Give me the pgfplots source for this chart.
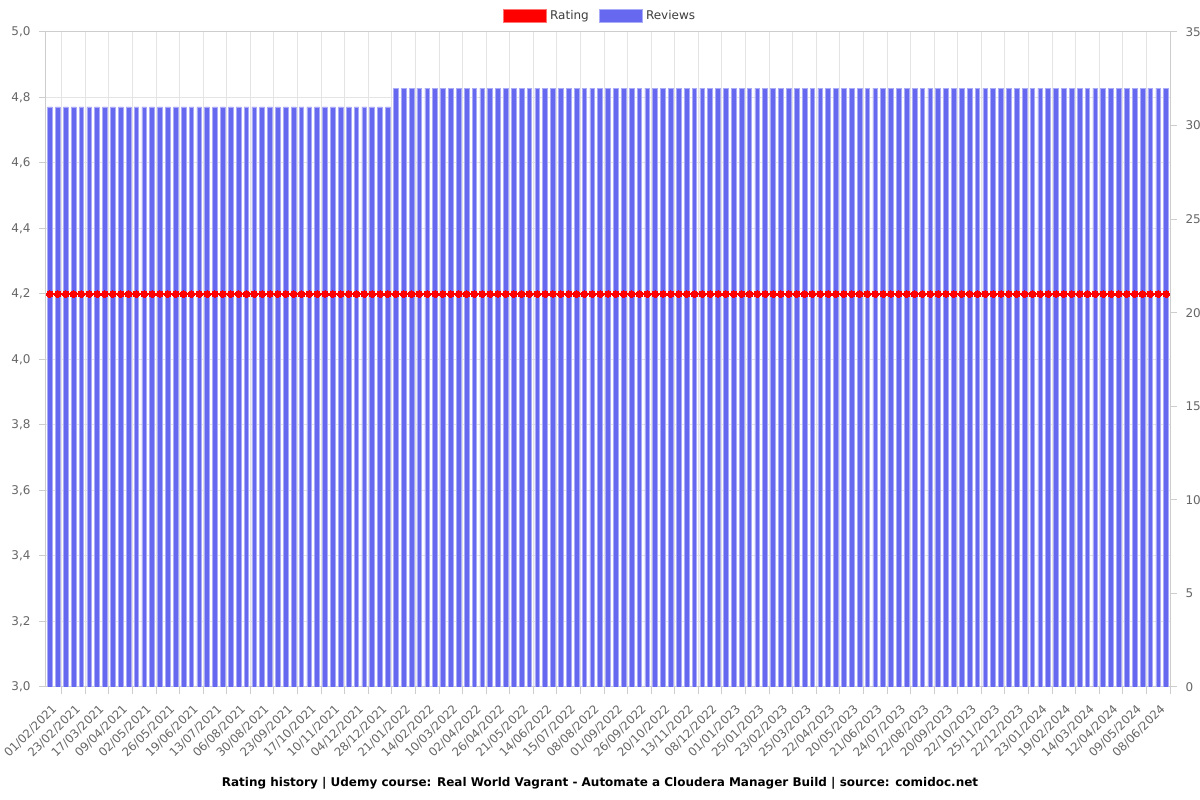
\documentclass[border=0pt]{standalone}
\usepackage{pgfplots}
\pgfplotsset{compat=1.18}
\usepackage{pgfplotstable}
\usepackage{fontspec}
\setmainfont{DejaVu Sans}

\definecolor{barblue}{RGB}{102,104,240}
\definecolor{gridgray}{RGB}{228,228,228}
\definecolor{axisgray}{RGB}{205,205,205}
\definecolor{labelgray}{RGB}{102,102,102}

% idx = week index, rating (left axis), reviews (right axis)
\pgfplotstableread[row sep=\\]{
idx rating reviews\\
0 4.2 31\\ 1 4.2 31\\ 2 4.2 31\\ 3 4.2 31\\ 4 4.2 31\\ 5 4.2 31\\ 6 4.2 31\\ 7 4.2 31\\ 8 4.2 31\\ 9 4.2 31\\
10 4.2 31\\ 11 4.2 31\\ 12 4.2 31\\ 13 4.2 31\\ 14 4.2 31\\ 15 4.2 31\\ 16 4.2 31\\ 17 4.2 31\\ 18 4.2 31\\ 19 4.2 31\\
20 4.2 31\\ 21 4.2 31\\ 22 4.2 31\\ 23 4.2 31\\ 24 4.2 31\\ 25 4.2 31\\ 26 4.2 31\\ 27 4.2 31\\ 28 4.2 31\\ 29 4.2 31\\
30 4.2 31\\ 31 4.2 31\\ 32 4.2 31\\ 33 4.2 31\\ 34 4.2 31\\ 35 4.2 31\\ 36 4.2 31\\ 37 4.2 31\\ 38 4.2 31\\ 39 4.2 31\\
40 4.2 31\\ 41 4.2 31\\ 42 4.2 31\\ 43 4.2 31\\ 44 4.2 32\\ 45 4.2 32\\ 46 4.2 32\\ 47 4.2 32\\ 48 4.2 32\\ 49 4.2 32\\
50 4.2 32\\ 51 4.2 32\\ 52 4.2 32\\ 53 4.2 32\\ 54 4.2 32\\ 55 4.2 32\\ 56 4.2 32\\ 57 4.2 32\\ 58 4.2 32\\ 59 4.2 32\\
60 4.2 32\\ 61 4.2 32\\ 62 4.2 32\\ 63 4.2 32\\ 64 4.2 32\\ 65 4.2 32\\ 66 4.2 32\\ 67 4.2 32\\ 68 4.2 32\\ 69 4.2 32\\
70 4.2 32\\ 71 4.2 32\\ 72 4.2 32\\ 73 4.2 32\\ 74 4.2 32\\ 75 4.2 32\\ 76 4.2 32\\ 77 4.2 32\\ 78 4.2 32\\ 79 4.2 32\\
80 4.2 32\\ 81 4.2 32\\ 82 4.2 32\\ 83 4.2 32\\ 84 4.2 32\\ 85 4.2 32\\ 86 4.2 32\\ 87 4.2 32\\ 88 4.2 32\\ 89 4.2 32\\
90 4.2 32\\ 91 4.2 32\\ 92 4.2 32\\ 93 4.2 32\\ 94 4.2 32\\ 95 4.2 32\\ 96 4.2 32\\ 97 4.2 32\\ 98 4.2 32\\ 99 4.2 32\\
100 4.2 32\\ 101 4.2 32\\ 102 4.2 32\\ 103 4.2 32\\ 104 4.2 32\\ 105 4.2 32\\ 106 4.2 32\\ 107 4.2 32\\ 108 4.2 32\\ 109 4.2 32\\
110 4.2 32\\ 111 4.2 32\\ 112 4.2 32\\ 113 4.2 32\\ 114 4.2 32\\ 115 4.2 32\\ 116 4.2 32\\ 117 4.2 32\\ 118 4.2 32\\ 119 4.2 32\\
120 4.2 32\\ 121 4.2 32\\ 122 4.2 32\\ 123 4.2 32\\ 124 4.2 32\\ 125 4.2 32\\ 126 4.2 32\\ 127 4.2 32\\ 128 4.2 32\\ 129 4.2 32\\
130 4.2 32\\ 131 4.2 32\\ 132 4.2 32\\ 133 4.2 32\\ 134 4.2 32\\ 135 4.2 32\\ 136 4.2 32\\ 137 4.2 32\\ 138 4.2 32\\ 139 4.2 32\\
140 4.2 32\\ 141 4.2 32\\ 142 4.2 32\\
}\data

\pgfplotsset{
  common/.style={
    scale only axis, width=1124pt, height=655pt,
    at={(0,0)}, anchor=south west,
    xmin=-0.5, xmax=142.5,
    tick align=outside, major tick length=7pt,
    tick style={axisgray, line width=1pt},
    axis line style={axisgray, line width=1pt},
    every tick label/.append style={font=\fontsize{12}{14}\selectfont, text=labelgray},
    /pgf/number format/assume math mode=true,
  }
}

\begin{document}
\begin{tikzpicture}
\path[use as bounding box] (-46pt,-113pt) rectangle (1154pt,687pt);

% reviews: right axis, bars, grid
\begin{axis}[common,
  ymin=0, ymax=35,
  ytick={0,5,10,15,20,25,30,35},
  ytick pos=right, xtick pos=bottom,
  yticklabel pos=right,
  yticklabel style={xshift=5pt},
  extra y ticks={3.5,7,10.5,14,17.5,21,24.5,28,31.5},
  extra y tick labels={},
  extra y tick style={grid=major, tick style={draw=none}},
  xmajorgrids,
  grid style={gridgray, line width=1pt},
  xtick={1.5,4.5,7.5,10.5,13.5,16.5,19.5,22.5,25.5,28.5,31.5,34.5,37.5,40.5,43.5,46.5,49.5,52.5,55.5,58.5,61.5,64.5,67.5,70.5,73.5,76.5,79.5,82.5,85.5,88.5,91.5,94.5,97.5,100.5,103.5,106.5,109.5,112.5,115.5,118.5,121.5,124.5,127.5,130.5,133.5,136.5,139.5,142.5},
  xticklabels={01/02/2021,23/02/2021,17/03/2021,09/04/2021,02/05/2021,26/05/2021,19/06/2021,13/07/2021,06/08/2021,30/08/2021,23/09/2021,17/10/2021,10/11/2021,04/12/2021,28/12/2021,21/01/2022,14/02/2022,10/03/2022,02/04/2022,26/04/2022,21/05/2022,14/06/2022,15/07/2022,08/08/2022,01/09/2022,26/09/2022,20/10/2022,13/11/2022,08/12/2022,01/01/2023,25/01/2023,23/02/2023,25/03/2023,22/04/2023,20/05/2023,21/06/2023,24/07/2023,22/08/2023,20/09/2023,22/10/2023,25/11/2023,22/12/2023,23/01/2024,19/02/2024,14/03/2024,12/04/2024,09/05/2024,08/06/2024},
  xticklabel style={xshift=-7pt, yshift=-13pt, rotate=45, anchor=east, inner sep=0pt,
    font=\fontsize{11.8}{14}\selectfont},
]
\addplot[ybar, bar width=0.6, fill=barblue, draw=barblue!55!white, line width=0.7pt] table[x=idx, y=reviews]{\data};
\end{axis}

% rating: left axis, line with dots, legend
\begin{axis}[common,
  clip=false,
  ymin=3, ymax=5,
  ytick={3,3.2,3.4,3.6,3.8,4,4.2,4.4,4.6,4.8,5},
  axis y line*=left,
  hide x axis,
  yticklabel style={/pgf/number format/use comma, /pgf/number format/fixed,
    /pgf/number format/fixed zerofill, /pgf/number format/precision=1, xshift=-5pt},
  legend image code/.code={\filldraw[#1] (0pt,-6.5pt) rectangle (43pt,6.5pt);},
  legend style={at={(0.4929,1.0244)}, anchor=center, draw=none, fill=none,
    font=\fontsize{12}{14}\selectfont, text=labelgray!60!black,
    legend columns=2, /tikz/every even column/.append style={column sep=8pt},
    /tikz/every odd column/.append style={column sep=1.5pt}},
]
\addplot[red, line width=2.5pt, mark=*, mark size=3.4pt, mark options={fill=red, draw=red, line width=0pt}, forget plot] table[x=idx, y=rating]{\data};
\addlegendimage{fill=red, draw=red!55!white, line width=0.7pt}
\addlegendentry{Rating}
\addlegendimage{fill=barblue, draw=barblue!55!white, line width=0.7pt}
\addlegendentry{Reviews}
\node[font=\fontsize{12}{14}\selectfont\bfseries, anchor=center] at (rel axis cs:0.4929,-0.1466)
  {Rating history | Udemy course: Real World Vagrant - Automate a Cloudera Manager Build | source: comidoc.net};
\end{axis}
\end{tikzpicture}
\end{document}
